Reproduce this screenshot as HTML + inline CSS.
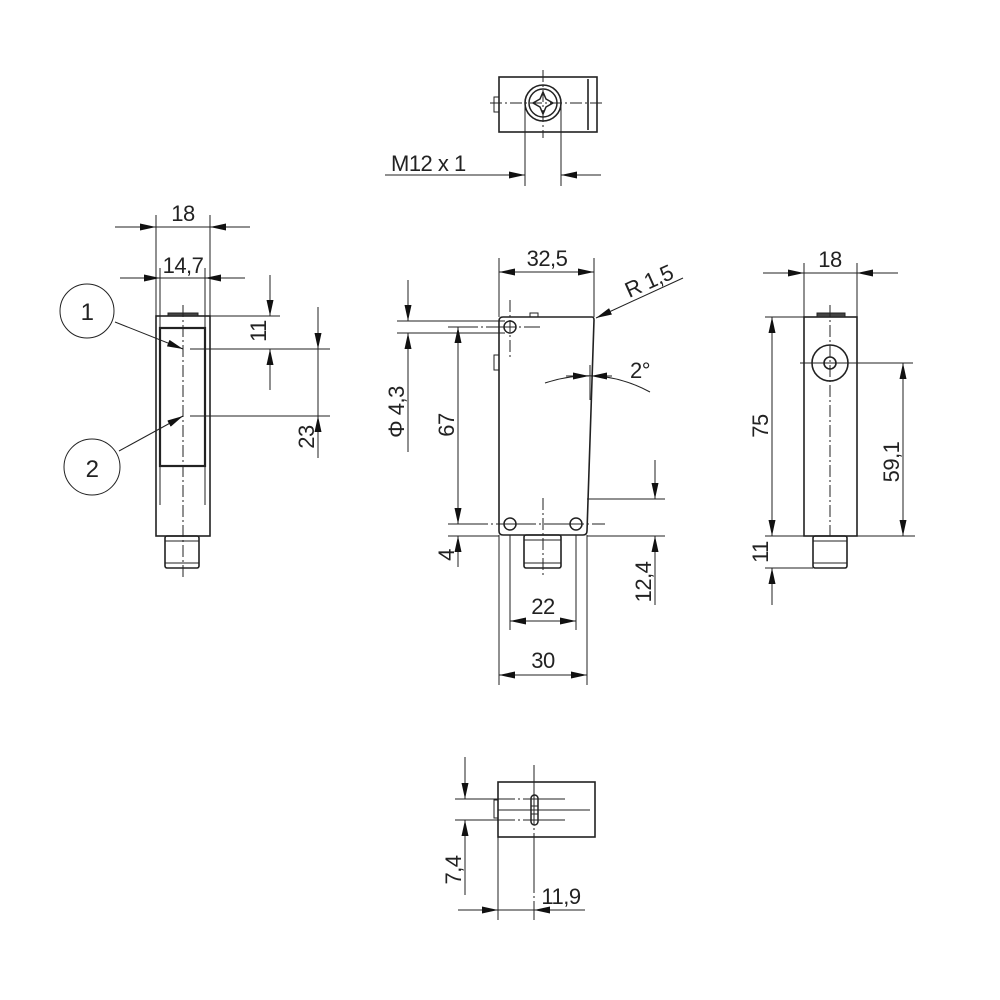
<!DOCTYPE html>
<html><head><meta charset="utf-8"><style>html,body{margin:0;padding:0;background:#fff}svg{display:block}text{font-family:"Liberation Sans",sans-serif;font-size:22px;letter-spacing:-0.5px;fill:#222}</style></head><body>
<svg width="1000" height="1000" viewBox="0 0 1000 1000" xmlns="http://www.w3.org/2000/svg">
<defs><marker id="a" viewBox="0 0 16 7" refX="16" refY="3.5" markerWidth="16" markerHeight="7" markerUnits="userSpaceOnUse" orient="auto"><path d="M0,0 L16,3.5 L0,7z" fill="#111"/></marker></defs>
<g fill="none" stroke="#222" stroke-width="1">
<!-- TOP VIEW -->
<rect x="499" y="77" width="98" height="55" stroke-width="1.6"/>
<line x1="588" y1="79" x2="588" y2="130" stroke-width="1.6"/>
<rect x="494" y="97" width="5" height="15"/>
<circle cx="543" cy="103" r="18" stroke-width="1.6"/><circle cx="543" cy="103" r="14" stroke-width="1.5"/>
<path d="M543,92 l3,7 l7,4 l-7,4 l-3,7 l-3,-7 l-7,-4 l7,-4z" stroke-width="1.5"/>
<line x1="490" y1="103" x2="602" y2="103" stroke-dasharray="12,3,2,3"/>
<line x1="543" y1="70" x2="543" y2="138" stroke-dasharray="12,3,2,3"/>
<line x1="525" y1="103" x2="525" y2="186"/><line x1="561" y1="103" x2="561" y2="186"/>
<line x1="385" y1="175" x2="525" y2="175" marker-end="url(#a)"/><line x1="601" y1="175" x2="561" y2="175" marker-end="url(#a)"/>
<!-- LEFT VIEW -->
<rect x="156" y="316" width="54" height="220" stroke-width="1.6"/>
<rect x="160" y="328" width="45" height="138" stroke-width="2.2"/>
<line x1="160" y1="466" x2="160" y2="505"/><line x1="205" y1="466" x2="205" y2="505"/>
<rect x="168" y="313" width="30" height="3" fill="#444"/>
<rect x="165" y="536" width="34" height="32" rx="2" stroke-width="1.6"/>
<line x1="165" y1="541" x2="199" y2="541"/><line x1="165" y1="563" x2="199" y2="563"/>
<line x1="183" y1="305" x2="183" y2="578" stroke-dasharray="12,3,2,3"/>
<line x1="156" y1="215" x2="156" y2="316"/><line x1="210" y1="215" x2="210" y2="316"/>
<line x1="115" y1="227" x2="156" y2="227" marker-end="url(#a)"/><line x1="250" y1="227" x2="210" y2="227" marker-end="url(#a)"/><line x1="156" y1="227" x2="210" y2="227"/>
<line x1="160" y1="268" x2="160" y2="328"/><line x1="205" y1="268" x2="205" y2="328"/>
<line x1="120" y1="278" x2="160" y2="278" marker-end="url(#a)"/><line x1="245" y1="278" x2="205" y2="278" marker-end="url(#a)"/><line x1="160" y1="278" x2="205" y2="278"/>
<line x1="210" y1="316" x2="280" y2="316"/>
<line x1="190" y1="349" x2="330" y2="349"/><line x1="190" y1="416" x2="330" y2="416"/>
<line x1="270" y1="275" x2="270" y2="316" marker-end="url(#a)"/><line x1="270" y1="390" x2="270" y2="349" marker-end="url(#a)"/>
<line x1="318" y1="307" x2="318" y2="349" marker-end="url(#a)"/><line x1="318" y1="458" x2="318" y2="416" marker-end="url(#a)"/><line x1="318" y1="349" x2="318" y2="416"/>
<circle cx="87" cy="311" r="27"/><circle cx="92" cy="467" r="28"/>
<line x1="115" y1="322" x2="183" y2="349" marker-end="url(#a)"/>
<line x1="119" y1="451" x2="183" y2="416" marker-end="url(#a)"/>
<!-- MAIN VIEW -->
<path d="M503,317 H592 Q594,317 594,320 L587,531 Q587,535 583,535 H503 Q499,535 499,531 V321 Q499,317 503,317Z" stroke-width="1.6"/>
<rect x="494" y="355" width="5" height="15"/>
<rect x="530" y="313" width="8" height="4"/>
<circle cx="510" cy="327" r="6" stroke-width="1.5"/><circle cx="510" cy="524" r="6" stroke-width="1.5"/><circle cx="576" cy="524" r="6" stroke-width="1.5"/>
<rect x="524" y="535" width="37" height="33" rx="2" stroke-width="1.6"/>
<line x1="524" y1="540" x2="561" y2="540"/><line x1="524" y1="563" x2="561" y2="563"/>
<line x1="543" y1="498" x2="543" y2="578" stroke-dasharray="12,3,2,3"/>
<line x1="510" y1="300" x2="510" y2="358" stroke-dasharray="12,3,2,3"/>
<line x1="499" y1="258" x2="499" y2="317"/><line x1="594" y1="258" x2="594" y2="317"/>
<line x1="547" y1="272" x2="499" y2="272" marker-end="url(#a)"/><line x1="547" y1="272" x2="594" y2="272" marker-end="url(#a)"/>
<line x1="683" y1="278" x2="596" y2="318" marker-end="url(#a)"/>
<line x1="590" y1="365" x2="590" y2="400"/>
<path d="M545,383 Q600,365 650,392"/>
<line x1="566" y1="376" x2="589" y2="376" marker-end="url(#a)"/><line x1="612" y1="376" x2="591" y2="376" marker-end="url(#a)"/>
<line x1="397" y1="321" x2="505" y2="321"/><line x1="397" y1="333" x2="505" y2="333"/>
<line x1="408" y1="280" x2="408" y2="321" marker-end="url(#a)"/><line x1="408" y1="452" x2="408" y2="333" marker-end="url(#a)"/>
<line x1="448" y1="327" x2="540" y2="327" stroke-dasharray="30,3,2,3"/>
<line x1="448" y1="524" x2="605" y2="524" stroke-dasharray="40,3,2,3"/>
<line x1="448" y1="536" x2="499" y2="536"/>
<line x1="458" y1="425" x2="458" y2="327" marker-end="url(#a)"/><line x1="458" y1="425" x2="458" y2="524" marker-end="url(#a)"/>
<line x1="458" y1="567" x2="458" y2="536" marker-end="url(#a)"/>
<line x1="587" y1="499" x2="665" y2="499"/><line x1="587" y1="536" x2="665" y2="536"/>
<line x1="655" y1="460" x2="655" y2="499" marker-end="url(#a)"/><line x1="655" y1="605" x2="655" y2="536" marker-end="url(#a)"/>
<line x1="510" y1="535" x2="510" y2="630"/><line x1="576" y1="535" x2="576" y2="630"/>
<line x1="543" y1="621" x2="510" y2="621" marker-end="url(#a)"/><line x1="543" y1="621" x2="576" y2="621" marker-end="url(#a)"/>
<line x1="499" y1="535" x2="499" y2="685"/><line x1="587" y1="535" x2="587" y2="685"/>
<line x1="543" y1="675" x2="499" y2="675" marker-end="url(#a)"/><line x1="543" y1="675" x2="587" y2="675" marker-end="url(#a)"/>
<!-- RIGHT VIEW -->
<rect x="804" y="317" width="53" height="219" stroke-width="1.6"/>
<rect x="817" y="313" width="28" height="4" fill="#444"/>
<circle cx="830" cy="363" r="18" stroke-width="1.6"/><circle cx="830" cy="363" r="6" stroke-width="1.6"/>
<rect x="813" y="536" width="34" height="32" rx="2" stroke-width="1.6"/>
<line x1="813" y1="541" x2="847" y2="541"/><line x1="813" y1="563" x2="847" y2="563"/>
<line x1="830" y1="305" x2="830" y2="536" stroke-dasharray="12,3,2,3"/>
<line x1="800" y1="363" x2="913" y2="363"/>
<line x1="804" y1="263" x2="804" y2="317"/><line x1="857" y1="263" x2="857" y2="317"/>
<line x1="763" y1="273" x2="804" y2="273" marker-end="url(#a)"/><line x1="898" y1="273" x2="857" y2="273" marker-end="url(#a)"/><line x1="804" y1="273" x2="857" y2="273"/>
<line x1="765" y1="317" x2="804" y2="317"/><line x1="765" y1="536" x2="915" y2="536"/><line x1="765" y1="568" x2="813" y2="568"/>
<line x1="772" y1="425" x2="772" y2="317" marker-end="url(#a)"/><line x1="772" y1="425" x2="772" y2="536" marker-end="url(#a)"/>
<line x1="772" y1="605" x2="772" y2="568" marker-end="url(#a)"/>
<line x1="903" y1="450" x2="903" y2="363" marker-end="url(#a)"/><line x1="903" y1="450" x2="903" y2="536" marker-end="url(#a)"/>
<!-- BOTTOM VIEW -->
<rect x="498" y="782" width="97" height="55" stroke-width="1.6"/>
<rect x="494" y="800" width="4" height="18"/>
<rect x="531" y="795" width="7" height="30" rx="3.5" stroke-width="1.5"/>
<line x1="531" y1="806" x2="538" y2="806"/><line x1="531" y1="814" x2="538" y2="814"/>
<line x1="455" y1="799" x2="565" y2="799" stroke-dasharray="60,3,2,3"/><line x1="455" y1="820" x2="565" y2="820" stroke-dasharray="60,3,2,3"/>
<line x1="498" y1="810" x2="590" y2="810"/>
<line x1="534" y1="765" x2="534" y2="920" stroke-dasharray="60,3,2,3"/>
<line x1="498" y1="837" x2="498" y2="920"/>
<line x1="465" y1="757" x2="465" y2="799" marker-end="url(#a)"/><line x1="465" y1="895" x2="465" y2="820" marker-end="url(#a)"/>
<line x1="458" y1="910" x2="498" y2="910" marker-end="url(#a)"/><line x1="585" y1="910" x2="534" y2="910" marker-end="url(#a)"/><line x1="498" y1="910" x2="534" y2="910"/>
</g>
<g>
<text x="391" y="171">M12 x 1</text>
<text x="183" y="221" text-anchor="middle">18</text>
<text x="183" y="273" text-anchor="middle">14,7</text>
<text x="87" y="320" text-anchor="middle" style="font-size:24px">1</text>
<text x="92" y="477" text-anchor="middle" style="font-size:24px">2</text>
<text transform="translate(266,331) rotate(-90)" text-anchor="middle">11</text>
<text transform="translate(314,437) rotate(-90)" text-anchor="middle">23</text>
<text x="547" y="266" text-anchor="middle">32,5</text>
<text transform="translate(652,288) rotate(-24)" text-anchor="middle">R 1,5</text>
<text x="640" y="378" text-anchor="middle">2°</text>
<text transform="translate(404,412) rotate(-90)" text-anchor="middle">Φ 4,3</text>
<text transform="translate(454,425) rotate(-90)" text-anchor="middle">67</text>
<text transform="translate(454,555) rotate(-90)" text-anchor="middle">4</text>
<text transform="translate(651,582) rotate(-90)" text-anchor="middle">12,4</text>
<text x="543" y="614" text-anchor="middle">22</text>
<text x="543" y="668" text-anchor="middle">30</text>
<text x="830" y="267" text-anchor="middle">18</text>
<text transform="translate(768,426) rotate(-90)" text-anchor="middle">75</text>
<text transform="translate(768,552) rotate(-90)" text-anchor="middle">11</text>
<text transform="translate(899,462) rotate(-90)" text-anchor="middle">59,1</text>
<text transform="translate(461,870) rotate(-90)" text-anchor="middle">7,4</text>
<text x="561" y="904" text-anchor="middle">11,9</text>
</g>
</svg>
</body></html>
